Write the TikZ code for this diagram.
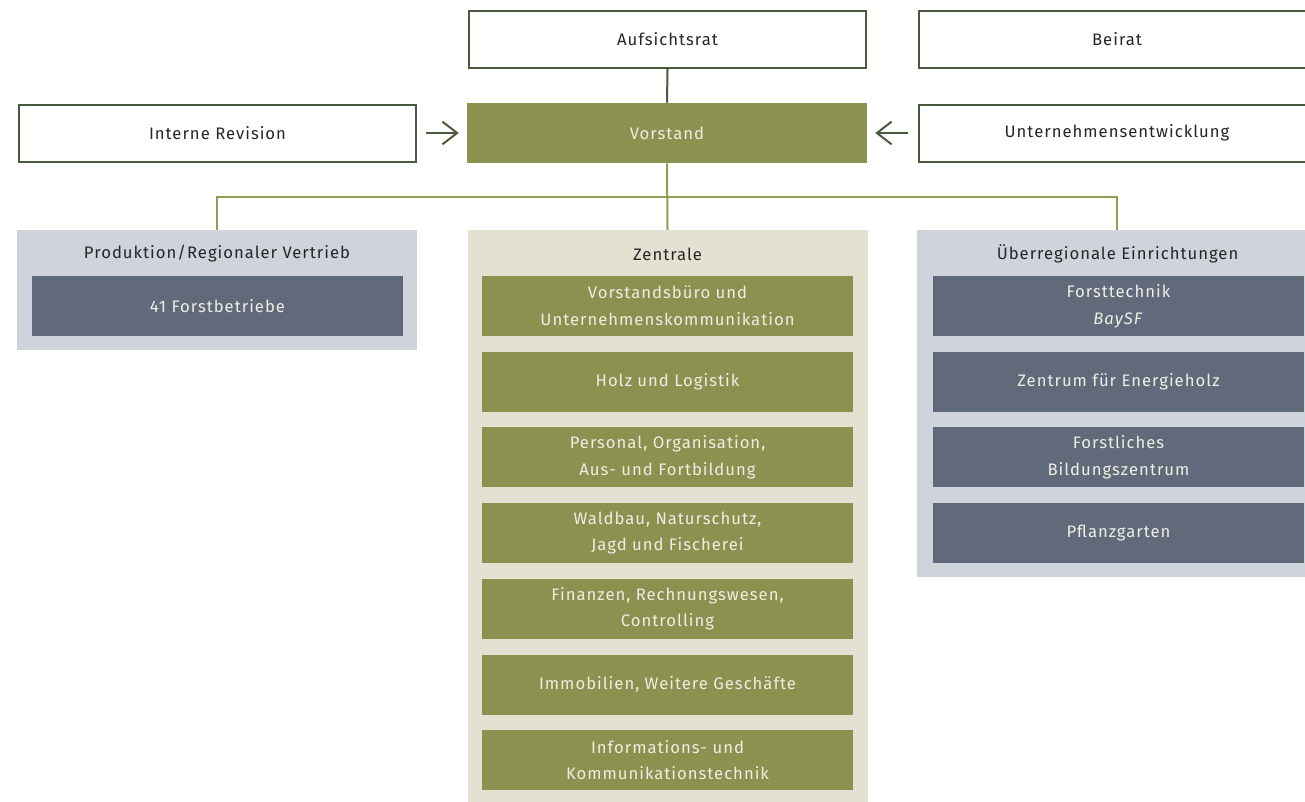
\documentclass[tikz,border=0pt]{standalone}
\usepackage{fontspec}
\setmainfont{Fira Sans}[LetterSpace=6]
\usetikzlibrary{arrows.meta}

\definecolor{orgdark}{RGB}{74,90,60}
\definecolor{orgolive}{RGB}{139,146,80}
\definecolor{orgline}{RGB}{148,156,84}
\definecolor{orgslate}{RGB}{96,106,122}
\definecolor{orggrey}{RGB}{207,211,220}
\definecolor{orgbeige}{RGB}{226,225,210}
\definecolor{orgtext}{RGB}{38,38,38}
\definecolor{orglight}{RGB}{238,238,228}

\tikzset{
  topbox/.style={draw=orgdark, line width=1.5pt, fill=white, minimum width=297.75pt, minimum height=42.75pt, inner sep=0pt, text=orgtext, font=\fontsize{12.5}{15}\selectfont},
  headbox/.style={fill=orgolive, minimum width=300pt, minimum height=45pt, inner sep=0pt, text=orglight, font=\fontsize{12.5}{15}\selectfont},
  groupbg/.style={anchor=north, minimum width=300pt, inner sep=0pt},
  grouptitle/.style={text=orgtext, font=\fontsize{12.5}{15}\selectfont},
  unitbox/.style={minimum width=278.25pt, minimum height=45pt, inner sep=0pt, text=orglight, align=center, font=\fontsize{12.5}{20}\selectfont},
  arrowline/.style={draw=orgdark, line width=1.5pt, -{Straight Barb[length=11pt,width=17pt]}, shorten <=7pt, shorten >=6pt}
}

\begin{document}
\begin{tikzpicture}[x=0.75pt,y=0.75pt,yscale=-1,xscale=1]
\useasboundingbox (0,0) rectangle (1305,801);

% Top row
\node (aufsicht) at (667.5,39.5) [topbox] {Aufsichtsrat};
\node (beirat) at (1117,39.5) [topbox] {Beirat};

% Second row
\node (revision) at (217.5,133) [topbox] {Interne Revision};
\node (vorstand) at (667,133) [headbox] {Vorstand};
\node (entwicklung) at (1117,133) [topbox] {Unternehmensentwicklung};

% Group backgrounds
\node (prod) at (217,230) [groupbg, fill=orggrey, minimum height=90pt] {};
\node (zentrale) at (667.5,230) [groupbg, fill=orgbeige, minimum height=430pt] {};
\node (ueber) at (1117,230) [groupbg, fill=orggrey, minimum height=260.25pt] {};

% Group titles
\node (prodtitle) at (217,254) [grouptitle] {Produktion/Regionaler Vertrieb};
\node (zentitle) at (667.5,254) [grouptitle] {Zentrale};
\node (uebertitle) at (1117.5,254) [grouptitle] {Überregionale Einrichtungen};

% Units
\node (forst) at (217.5,306) [unitbox, fill=orgslate] {41 Forstbetriebe};
\foreach \txt [count=\i] in {{Vorstandsbüro und\\Unternehmenskommunikation}, {Holz und Logistik}, {Personal, Organisation,\\Aus- und Fortbildung}, {Waldbau, Naturschutz,\\Jagd und Fischerei}, {Finanzen, Rechnungswesen,\\Controlling}, {Immobilien, Weitere Geschäfte}, {Informations- und\\Kommunikationstechnik}}
  \node (z\i) at (667.5,{306+75.7*(\i-1)}) [unitbox, fill=orgolive] {\txt};
\foreach \txt [count=\i] in {{Forsttechnik\\\textit{BaySF}}, {Zentrum für Energieholz}, {Forstliches\\Bildungszentrum}, {Pflanzgarten}}
  \node (u\i) at (1118.5,{306+75.7*(\i-1)}) [unitbox, fill=orgslate] {\txt};

% Connectors
\coordinate (split) at (667.5,197);
\draw [orgdark, line width=1.5pt] (aufsicht.south) -- (vorstand.north);
\draw [orgline, line width=1.5pt] (vorstand.south) -- (zentrale.north);
\draw [orgline, line width=1.5pt] (prod.north) |- (split) -| (ueber.north);
\draw [arrowline] (revision.east) -- (vorstand.west);
\draw [arrowline] (entwicklung.west) -- (vorstand.east);

\end{tikzpicture}
\end{document}
